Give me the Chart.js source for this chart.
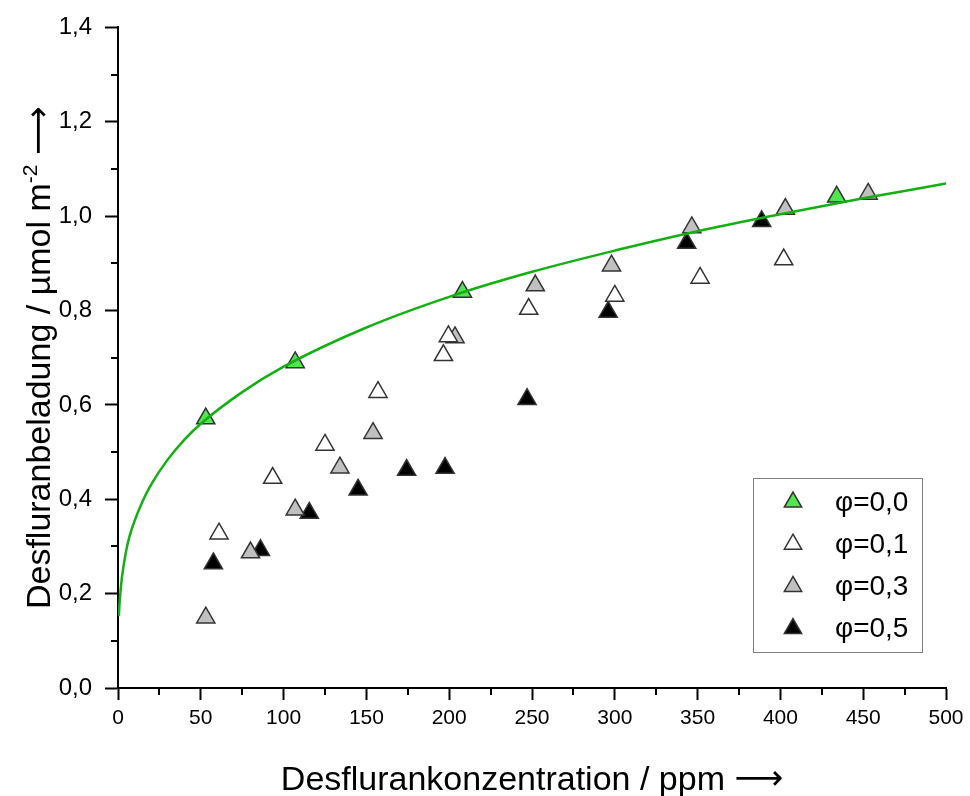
<!DOCTYPE html>
<html lang="de">
<head>
<meta charset="UTF-8">
<title>Desfluranbeladung</title>
<script src="https://cdn.jsdelivr.net/npm/chart.js@4.4.1/dist/chart.umd.min.js"></script>
<style>
  html, body { margin: 0; padding: 0; background: #fff; }
  #wrap { width: 970px; height: 796px; }
</style>
</head>
<body>
<div id="wrap"><canvas id="isotherm" width="970" height="796"></canvas></div>
<script>
  // measured loadings per relative humidity (x: ppm, y: µmol/m²)
  const phi00X = [53, 107, 208, 434];
  const phi00Y = [0.571, 0.690, 0.839, 1.041];

  const phi01X = [61, 93.4, 125, 157, 196.5, 199.5, 248, 300, 351.5, 402];
  const phi01Y = [0.327, 0.445, 0.515, 0.627, 0.705, 0.745, 0.803, 0.831, 0.869, 0.908];

  const phi03X = [53, 80, 107, 134, 154, 203.5, 252, 298, 346.5, 403, 453];
  const phi03Y = [0.149, 0.287, 0.378, 0.467, 0.540, 0.743, 0.853, 0.895, 0.976, 1.015, 1.047];

  const phi05X = [57.6, 86, 115.5, 145, 174.3, 197.5, 247, 296, 343.4, 388.7];
  const phi05Y = [0.264, 0.292, 0.371, 0.420, 0.462, 0.466, 0.612, 0.797, 0.943, 0.989];

  // isotherm curve for the dry case
  const curveX = [0.5, 1, 2, 3, 5, 7, 10, 15, 20, 30, 40, 50, 75, 100, 150, 200, 250, 300, 350, 400, 450, 500];
  const curveY = [0.153, 0.183, 0.223, 0.250, 0.292, 0.322, 0.354, 0.397, 0.431, 0.484, 0.526, 0.560,
                  0.627, 0.681, 0.764, 0.829, 0.882, 0.927, 0.968, 1.004, 1.038, 1.069];

  const seriesLabels = ['φ=0,0', 'φ=0,1', 'φ=0,3', 'φ=0,5'];
  const seriesFills = ['#50e650', '#ffffff', '#c0c0c0', '#000000'];

  const FONT = '"Liberation Sans", Arial, sans-serif';
  const ARROW_FONT = '"DejaVu Sans", sans-serif';

  const pts = (xs, ys) => xs.map((x, i) => ({ x: x, y: ys[i] }));

  // small ticks between the labelled ones
  const minorTicks = {
    id: 'minorTicks',
    afterDraw(chart) {
      const { ctx, scales: { x, y } } = chart;
      ctx.save();
      ctx.strokeStyle = '#000';
      ctx.lineWidth = 2;
      ctx.beginPath();
      for (let v = 25; v < 500; v += 50) {
        const px = Math.round(x.getPixelForValue(v));
        ctx.moveTo(px, x.top);
        ctx.lineTo(px, x.top + 7);
      }
      for (let v = 0.1; v < 1.4; v += 0.2) {
        const py = Math.round(y.getPixelForValue(v));
        ctx.moveTo(y.right, py);
        ctx.lineTo(y.right - 7, py);
      }
      ctx.stroke();
      ctx.restore();
    }
  };

  // write a row of [text, font, dy] pieces starting at (x0, y0)
  function drawPieces(ctx, pieces, x0, y0) {
    pieces.forEach(p => {
      ctx.font = p[1];
      ctx.fillText(p[0], x0, y0 + p[2]);
      x0 += ctx.measureText(p[0]).width;
    });
  }
  function piecesWidth(ctx, pieces) {
    return pieces.reduce((w, p) => { ctx.font = p[1]; return w + ctx.measureText(p[0]).width; }, 0);
  }

  // axis titles, the y one with a superscript
  const axisTitles = {
    id: 'axisTitles',
    afterDraw(chart) {
      const { ctx, chartArea: a } = chart;
      const big = '34px ' + FONT;
      const arrow = '34px ' + ARROW_FONT;
      ctx.save();
      ctx.fillStyle = '#000';
      ctx.textAlign = 'left';
      ctx.textBaseline = 'alphabetic';

      const xPieces = [['Desflurankonzentration / ppm ', big, 0], ['⟶', arrow, -1]];
      const xw = piecesWidth(ctx, xPieces);
      drawPieces(ctx, xPieces, (a.left + a.right) / 2 - xw / 2, 790);

      const yPieces = [
        ['Desfluranbeladung / µmol m', big, 0],
        ['-2', '21px ' + FONT, -13],
        [' ', big, 0],
        ['⟶', arrow, -1]
      ];
      const yw = piecesWidth(ctx, yPieces);
      ctx.translate(50, (a.top + a.bottom) / 2);
      ctx.rotate(-Math.PI / 2);
      drawPieces(ctx, yPieces, -yw / 2, 0);
      ctx.restore();
    }
  };

  // framed legend inside the plot, lower right
  const boxLegend = {
    id: 'boxLegend',
    afterDraw(chart) {
      const ctx = chart.ctx;
      ctx.save();
      ctx.strokeStyle = '#808080';
      ctx.lineWidth = 1;
      ctx.strokeRect(753.5, 478.5, 169, 174);
      ctx.font = '28px ' + FONT;
      ctx.textAlign = 'left';
      ctx.textBaseline = 'middle';
      seriesLabels.forEach((label, i) => {
        const ds = chart.data.datasets[i];
        const cy = 502 + i * 42.2;
        ctx.fillStyle = ds.backgroundColor;
        ctx.strokeStyle = ds.borderColor;
        ctx.lineWidth = ds.borderWidth;
        Chart.helpers.drawPoint(ctx, { pointStyle: 'triangle', radius: 10, borderWidth: ds.borderWidth, rotation: 0 }, 793, cy);
        ctx.fillStyle = '#000';
        ctx.fillText(label, 835, cy + 1);
      });
      ctx.restore();
    }
  };

  const scatterSet = (i, xs, ys) => ({
    label: seriesLabels[i],
    data: pts(xs, ys),
    pointStyle: 'triangle',
    pointRadius: 10.5,
    pointHoverRadius: 10.5,
    backgroundColor: seriesFills[i],
    borderColor: '#333333',
    borderWidth: 1.5,
    order: 1
  });

  new Chart(document.getElementById('isotherm'), {
    type: 'scatter',
    data: {
      datasets: [
        scatterSet(0, phi00X, phi00Y),
        scatterSet(1, phi01X, phi01Y),
        scatterSet(2, phi03X, phi03Y),
        scatterSet(3, phi05X, phi05Y),
        {
          type: 'line',
          label: 'Isotherme',
          data: pts(curveX, curveY),
          borderColor: '#12b012',
          borderWidth: 2.5,
          pointRadius: 0,
          fill: false,
          cubicInterpolationMode: 'monotone',
          order: 0
        }
      ]
    },
    options: {
      responsive: false,
      animation: false,
      devicePixelRatio: 1,
      layout: { padding: { left: 0, top: 23, right: 24, bottom: 0 } },
      plugins: { legend: { display: false }, tooltip: { enabled: false } },
      scales: {
        x: {
          type: 'linear',
          min: 0,
          max: 500,
          ticks: { stepSize: 50, color: '#000', font: { size: 21, family: FONT }, padding: 6, maxRotation: 0, autoSkip: false },
          grid: { drawOnChartArea: false, tickLength: 12, tickWidth: 2, tickColor: '#000' },
          border: { color: '#000', width: 2 },
          afterFit(s) { s.height = 108; }
        },
        y: {
          type: 'linear',
          min: 0,
          max: 1.4,
          ticks: {
            stepSize: 0.2,
            color: '#000',
            font: { size: 24, family: FONT },
            padding: 13,
            callback: v => v.toFixed(1).replace('.', ',')
          },
          grid: { drawOnChartArea: false, tickLength: 13, tickWidth: 2, tickColor: '#000' },
          border: { color: '#000', width: 2 },
          afterFit(s) { s.width = 118; }
        }
      }
    },
    plugins: [minorTicks, axisTitles, boxLegend]
  });
</script>
</body>
</html>
